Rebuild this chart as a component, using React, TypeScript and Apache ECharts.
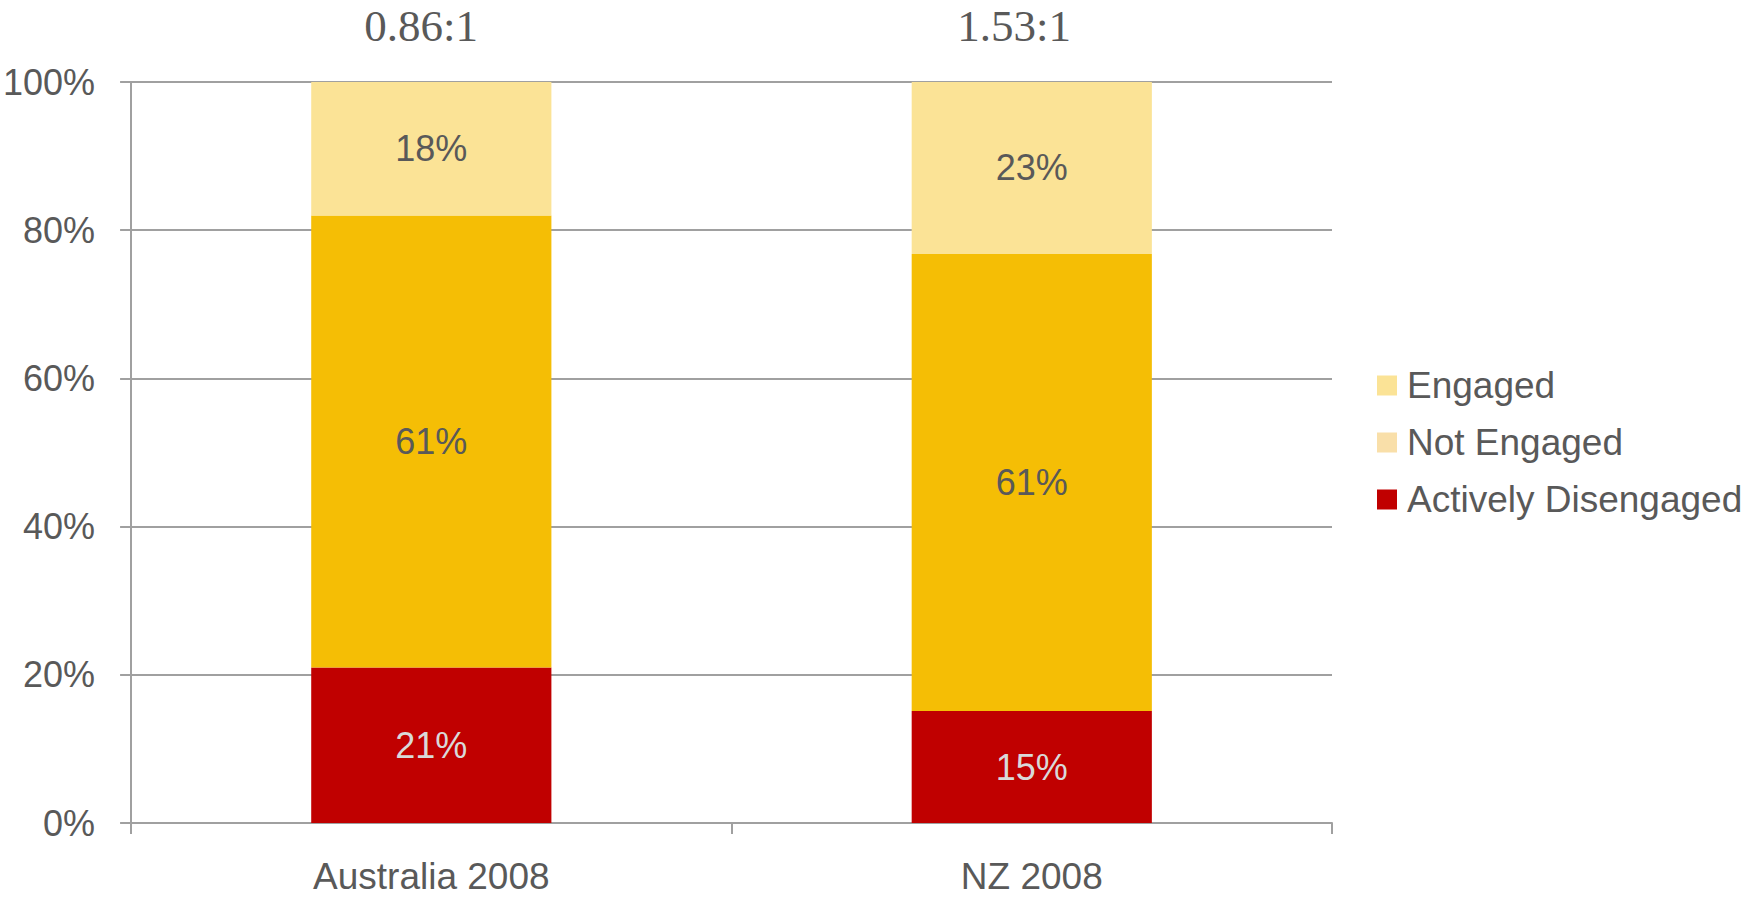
import React, { useEffect, useRef } from "react";
import * as echarts from "echarts";

const categories = ["Australia 2008", "NZ 2008"];
const activelyDisengaged = [21, 15.1];
const notEngaged = [61, 61.7];
const engaged = [18, 23.2];
const ratioLabels = ["0.86:1", "1.53:1"];
const yTicks = [0, 20, 40, 60, 80, 100];

const SANS = "Liberation Sans, Arial, Helvetica, sans-serif";
const TEXT = "#595959";
const AXIS = "#A0A0A0";

export default function App() {
  const ref = useRef<HTMLDivElement>(null);
  useEffect(() => {
    document.body.style.margin = "0";
    const chart = echarts.init(ref.current!, undefined, { renderer: "svg" });
    const label = (color: string) => ({
      show: true,
      position: "inside",
      color,
      fontFamily: SANS,
      fontSize: 36,
      formatter: (p: any) => `${Math.floor(p.value)}%`,
    });
    chart.setOption({
      animation: false,
      backgroundColor: "#ffffff",
      title: ratioLabels.map((t, i) => ({
        text: t,
        left: [421, 1014][i],
        top: 3,
        textAlign: "center",
        padding: 0,
        textStyle: {
          fontFamily: "Liberation Serif, Times New Roman, serif",
          fontSize: 45,
          fontWeight: "normal",
          color: TEXT,
        },
      })),
      grid: { left: 128, right: 413, top: 82, bottom: 76, containLabel: false },
      legend: {
        orient: "vertical",
        left: 1377,
        top: 367,
        padding: 0,
        itemWidth: 20,
        itemHeight: 20,
        itemGap: 20,
        icon: "rect",
        selectedMode: false,
        textStyle: { fontFamily: SANS, fontSize: 37, color: TEXT, padding: [0, 0, 0, 5] },
        data: [
          { name: "Engaged" },
          { name: "Not Engaged", itemStyle: { color: "#F9DFA9" } },
          { name: "Actively Disengaged" },
        ],
      },
      xAxis: {
        type: "category",
        data: categories,
        axisLine: { lineStyle: { color: AXIS, width: 2 } },
        axisTick: { show: true, length: 11, lineStyle: { color: AXIS, width: 2 } },
        axisLabel: { fontFamily: SANS, fontSize: 37, color: TEXT, margin: 35 },
      },
      yAxis: {
        type: "value",
        min: yTicks[0],
        max: yTicks[yTicks.length - 1],
        interval: 20,
        axisLine: { show: true, lineStyle: { color: AXIS, width: 2 } },
        axisTick: { show: true, length: 11, lineStyle: { color: AXIS, width: 2 } },
        splitLine: { show: true, lineStyle: { color: AXIS, width: 2 } },
        axisLabel: {
          fontFamily: SANS,
          fontSize: 36,
          color: TEXT,
          margin: 36,
          formatter: (v: number) => `${v}%`,
        },
      },
      series: [
        {
          name: "Actively Disengaged",
          type: "bar",
          stack: "total",
          barWidth: "40%",
          data: activelyDisengaged,
          itemStyle: { color: "#C00000" },
          label: label("#D9D9D9"),
        },
        {
          name: "Not Engaged",
          type: "bar",
          stack: "total",
          barWidth: "40%",
          data: notEngaged,
          itemStyle: { color: "#F5BE05" },
          label: label(TEXT),
        },
        {
          name: "Engaged",
          type: "bar",
          stack: "total",
          barWidth: "40%",
          data: engaged,
          itemStyle: { color: "#FBE396" },
          label: label(TEXT),
        },
      ],
    });
    return () => chart.dispose();
  }, []);
  return <div ref={ref} style={{ width: 1745, height: 899 }} />;
}
